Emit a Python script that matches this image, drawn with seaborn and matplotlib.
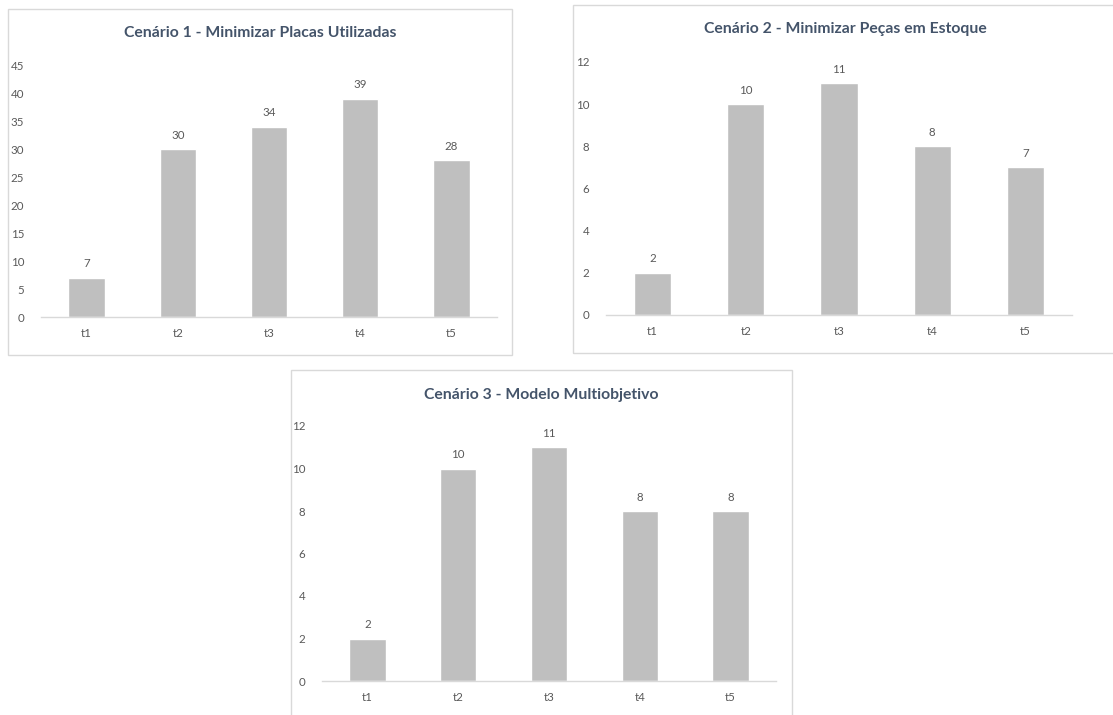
import matplotlib
matplotlib.use("Agg")
import matplotlib.pyplot as plt
from matplotlib.patches import Rectangle
import seaborn as sns
import pandas as pd

sns.set_theme(style="white")
plt.rcParams['font.family'] = ['Lato', 'DejaVu Sans']

# Data for the three scenarios
periods = ["t1", "t2", "t3", "t4", "t5"]
cenario1 = [7, 30, 34, 39, 28]
cenario2 = [2, 10, 11, 8, 7]
cenario3 = [2, 10, 11, 8, 8]
titles = [
    "Cenário 1 - Minimizar Placas Utilizadas",
    "Cenário 2 - Minimizar Peças em Estoque",
    "Cenário 3 - Modelo Multiobjetivo",
]
ylims = [45, 12]
ysteps = [5, 2]

W, H = 1113, 715
fig = plt.figure(figsize=(W / 100, H / 100), dpi=100)
fig.patch.set_facecolor("white")

BAR = "#bfbfbf"
TXT = "#595959"
TITLE = "#44546a"
EDGE = "#d9d9d9"


def px_rect(x0, y0, x1, y1):
    """Pixel box (top-left origin) -> figure fraction [l, b, w, h]."""
    return [x0 / W, (H - y1) / H, (x1 - x0) / W, (y1 - y0) / H]


def panel(frame, axbox, title, title_y, values, ymax, ystep):
    l, b, w, h = px_rect(*frame)
    fig.patches.append(Rectangle((l, b), w, h, transform=fig.transFigure,
                                 facecolor="none", edgecolor=EDGE, lw=1.0,
                                 zorder=0))
    ax = fig.add_axes(px_rect(*axbox))
    ax.patch.set_alpha(0)
    df = pd.DataFrame({"periodo": periods, "valor": values})
    sns.barplot(data=df, x="periodo", y="valor", color=BAR, width=0.4,
                saturation=1, ax=ax)
    ax.set_ylim(0, ymax)
    ax.set_yticks(range(0, ymax + 1, ystep))
    ax.set_xlim(-0.5, len(periods) - 0.5)
    ax.set_xlabel("")
    ax.set_ylabel("")
    for s in ("top", "right", "left"):
        ax.spines[s].set_visible(False)
    ax.spines["bottom"].set_color(EDGE)
    ax.spines["bottom"].set_linewidth(1.0)
    ax.tick_params(axis="both", length=0, labelsize=8.3, colors=TXT)
    ax.tick_params(axis="y", pad=12)
    ax.tick_params(axis="x", pad=8)
    for c in ax.containers:
        ax.bar_label(c, labels=[str(v) for v in values], padding=6,
                     fontsize=8.3, color=TXT)
    cx = (frame[0] + frame[2]) / 2
    fig.text(cx / W, 1 - title_y / H, title, ha="center", va="center",
             fontsize=11.3, fontweight="bold", color=TITLE)
    return ax


panel((8, 9, 512, 355), (41, 65, 497, 317), titles[0], 33,
      cenario1, ylims[0], ysteps[0])
panel((573, 5, 1118, 353), (606, 62, 1072, 315), titles[1], 29,
      cenario2, ylims[1], ysteps[1])
panel((291, 370, 792, 720), (322, 426, 776, 681), titles[2], 395,
      cenario3, ylims[1], ysteps[1])

fig.savefig("out.png", dpi=100, facecolor="white")
